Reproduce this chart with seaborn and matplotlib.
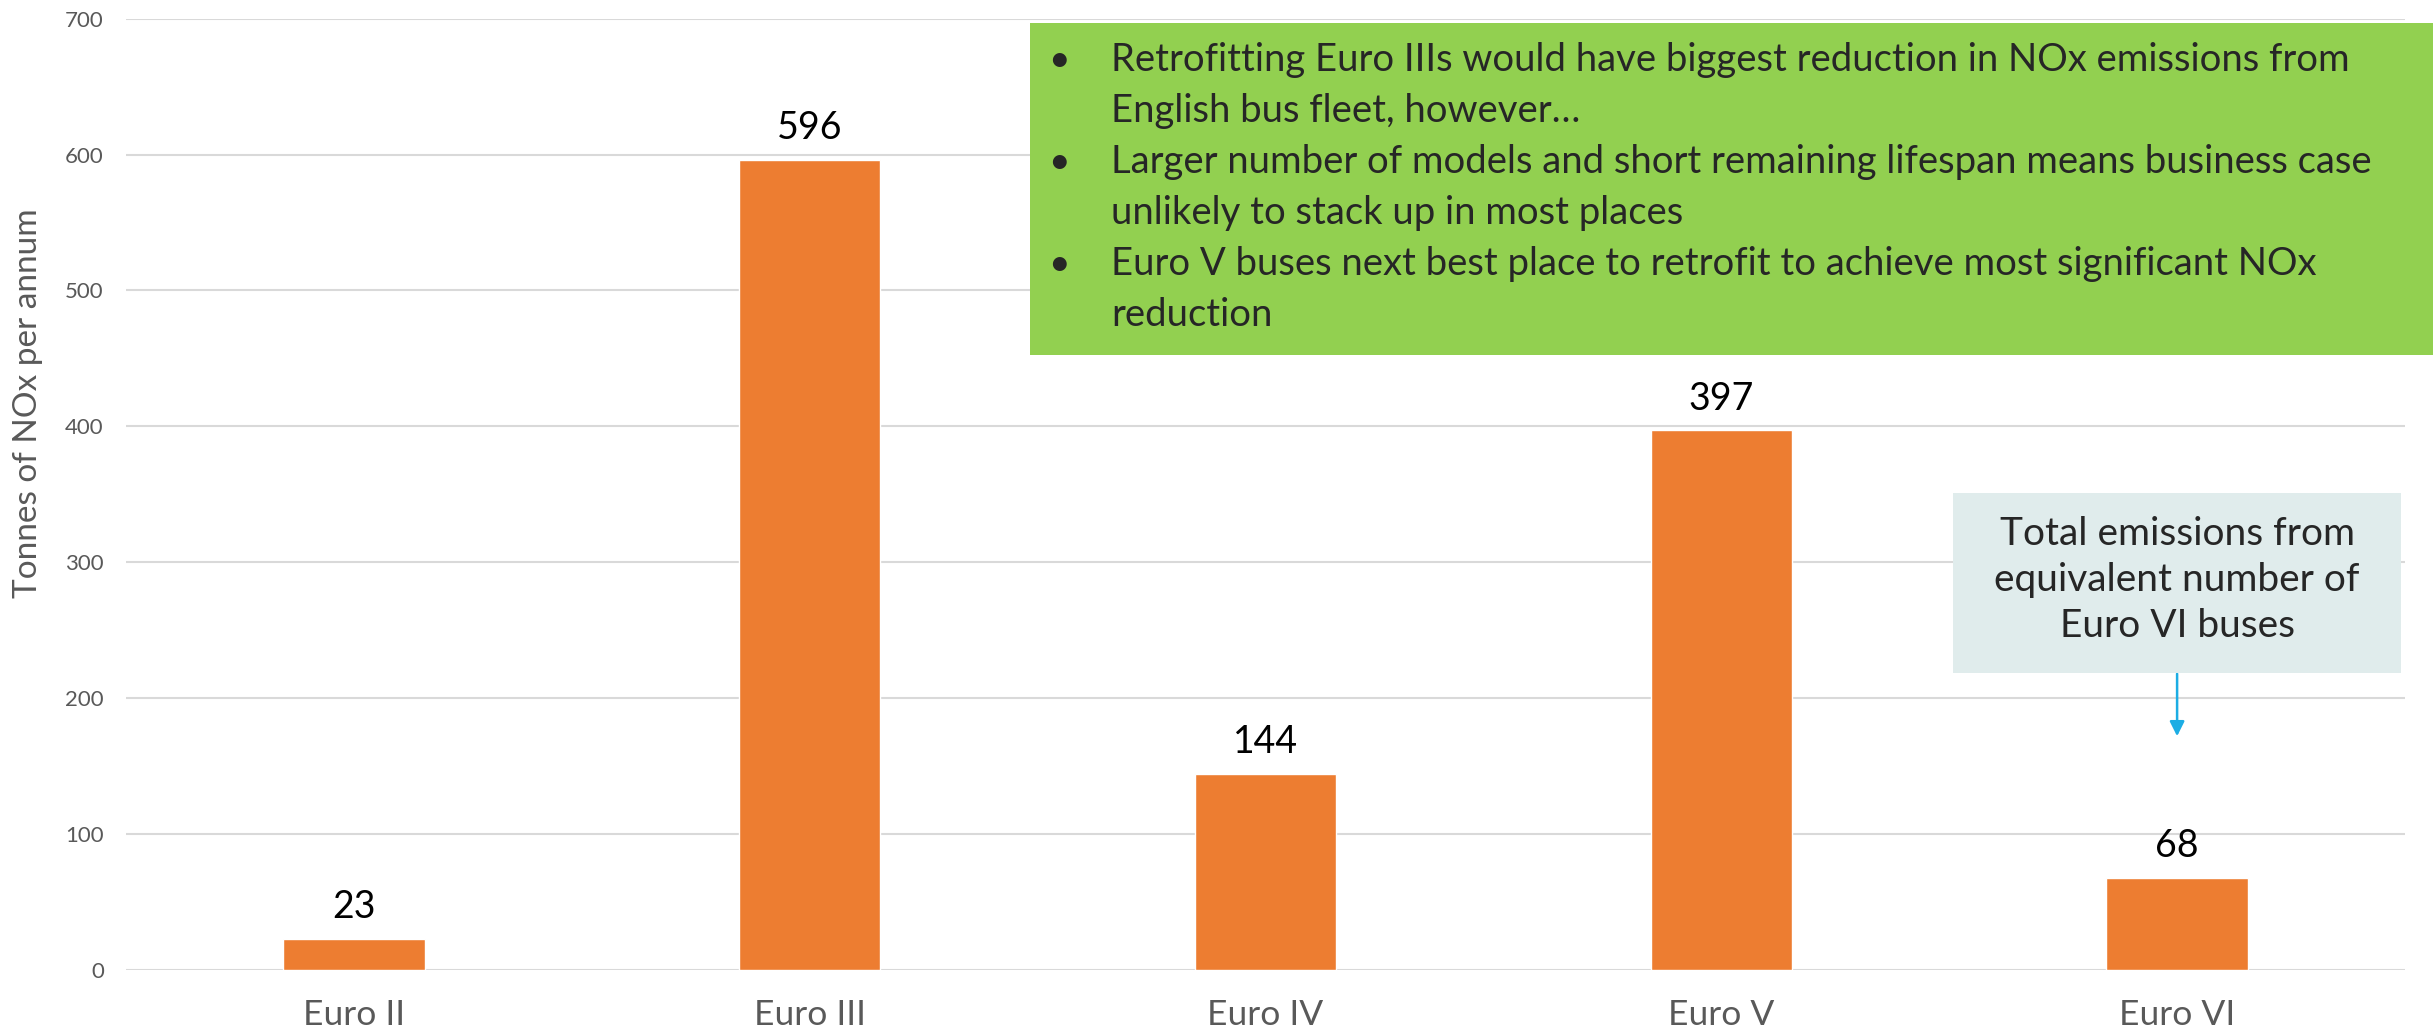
import matplotlib
matplotlib.use("Agg")
import matplotlib.pyplot as plt
import seaborn as sns
from matplotlib.patches import Rectangle

# === Data ===
categories = ["Euro II", "Euro III", "Euro IV", "Euro V", "Euro VI"]
nox_tonnes = [23, 596, 144, 397, 68]
y_ticks = [0, 100, 200, 300, 400, 500, 600, 700]

bullet_lines = [
    ["Retrofitting Euro IIIs would have biggest reduction in NOx emissions from",
     "English bus fleet, however\u2026"],
    ["Larger number of models and short remaining lifespan means business case",
     "unlikely to stack up in most places"],
    ["Euro V buses next best place to retrofit to achieve most significant NOx",
     "reduction"],
]
callout_text = "Total emissions from\nequivalent number of\nEuro VI buses"

W, H = 2433, 1034
BAR = "#ED7D31"
GRID = "#D9D9D9"
TICK = "#595959"

sns.set_theme(style="white")
plt.rcParams["font.family"] = ["Lato", "DejaVu Sans"]

fig = plt.figure(figsize=(W / 100, H / 100), dpi=100)
ax = fig.add_axes([126 / W, 1 - 970 / H, (2405 - 126) / W, (970 - 18.6) / H])

sns.barplot(x=categories, y=nox_tonnes, color=BAR, saturation=1, width=0.31, ax=ax, zorder=3)

ax.set_ylim(0, 700)
ax.set_xlim(-0.5, len(categories) - 0.5)
ax.set_yticks(y_ticks)
ax.yaxis.grid(True, color=GRID, lw=1.5, zorder=0)
ax.set_axisbelow(True)
for s in ax.spines.values():
    s.set_visible(False)
ax.tick_params(axis="x", length=0, pad=21, labelsize=25.5, labelcolor=TICK)
ax.tick_params(axis="y", length=0, pad=16, labelsize=16, labelcolor=TICK)
ax.set_ylabel("Tonnes of NOx per annum", fontsize=24, color=TICK)
ax.yaxis.set_label_coords(-0.0365, 0.596)
ax.set_xlabel("")

ax.bar_label(ax.containers[0], fmt="%d", padding=10, fontsize=27, color="black")

# === green summary box ===
def fx(px):
    return px / W

def fy(py):
    return 1 - py / H

fig.patches.append(Rectangle((fx(1030), fy(355)), fx(2433) - fx(1030), fy(23) - fy(355),
                             transform=fig.transFigure, facecolor="#92D050",
                             edgecolor="none", zorder=5))
line_y = 60
for lines in bullet_lines:
    fig.text(fx(1048), fy(line_y), "\u2022", fontsize=27, va="center", ha="left", zorder=6)
    for ln in lines:
        fig.text(fx(1111), fy(line_y), ln, fontsize=27.5, va="center", ha="left", zorder=6)
        line_y += 51

# === callout box ===
fig.patches.append(Rectangle((fx(1953), fy(673)), fx(2401) - fx(1953), fy(493) - fy(673),
                             transform=fig.transFigure, facecolor="#E0ECEC",
                             edgecolor="none", zorder=5))
fig.text(fx(2177), fy(580), callout_text, fontsize=28, ha="center", va="center",
         linespacing=1.35, zorder=6)
ax.annotate("", xy=(4, 172), xytext=(4, 218),
            arrowprops=dict(arrowstyle="-|>", color="#1CADE4", lw=1.8, mutation_scale=22,
                            shrinkA=0, shrinkB=0),
            annotation_clip=False)

fig.savefig("out.png", dpi=100)
